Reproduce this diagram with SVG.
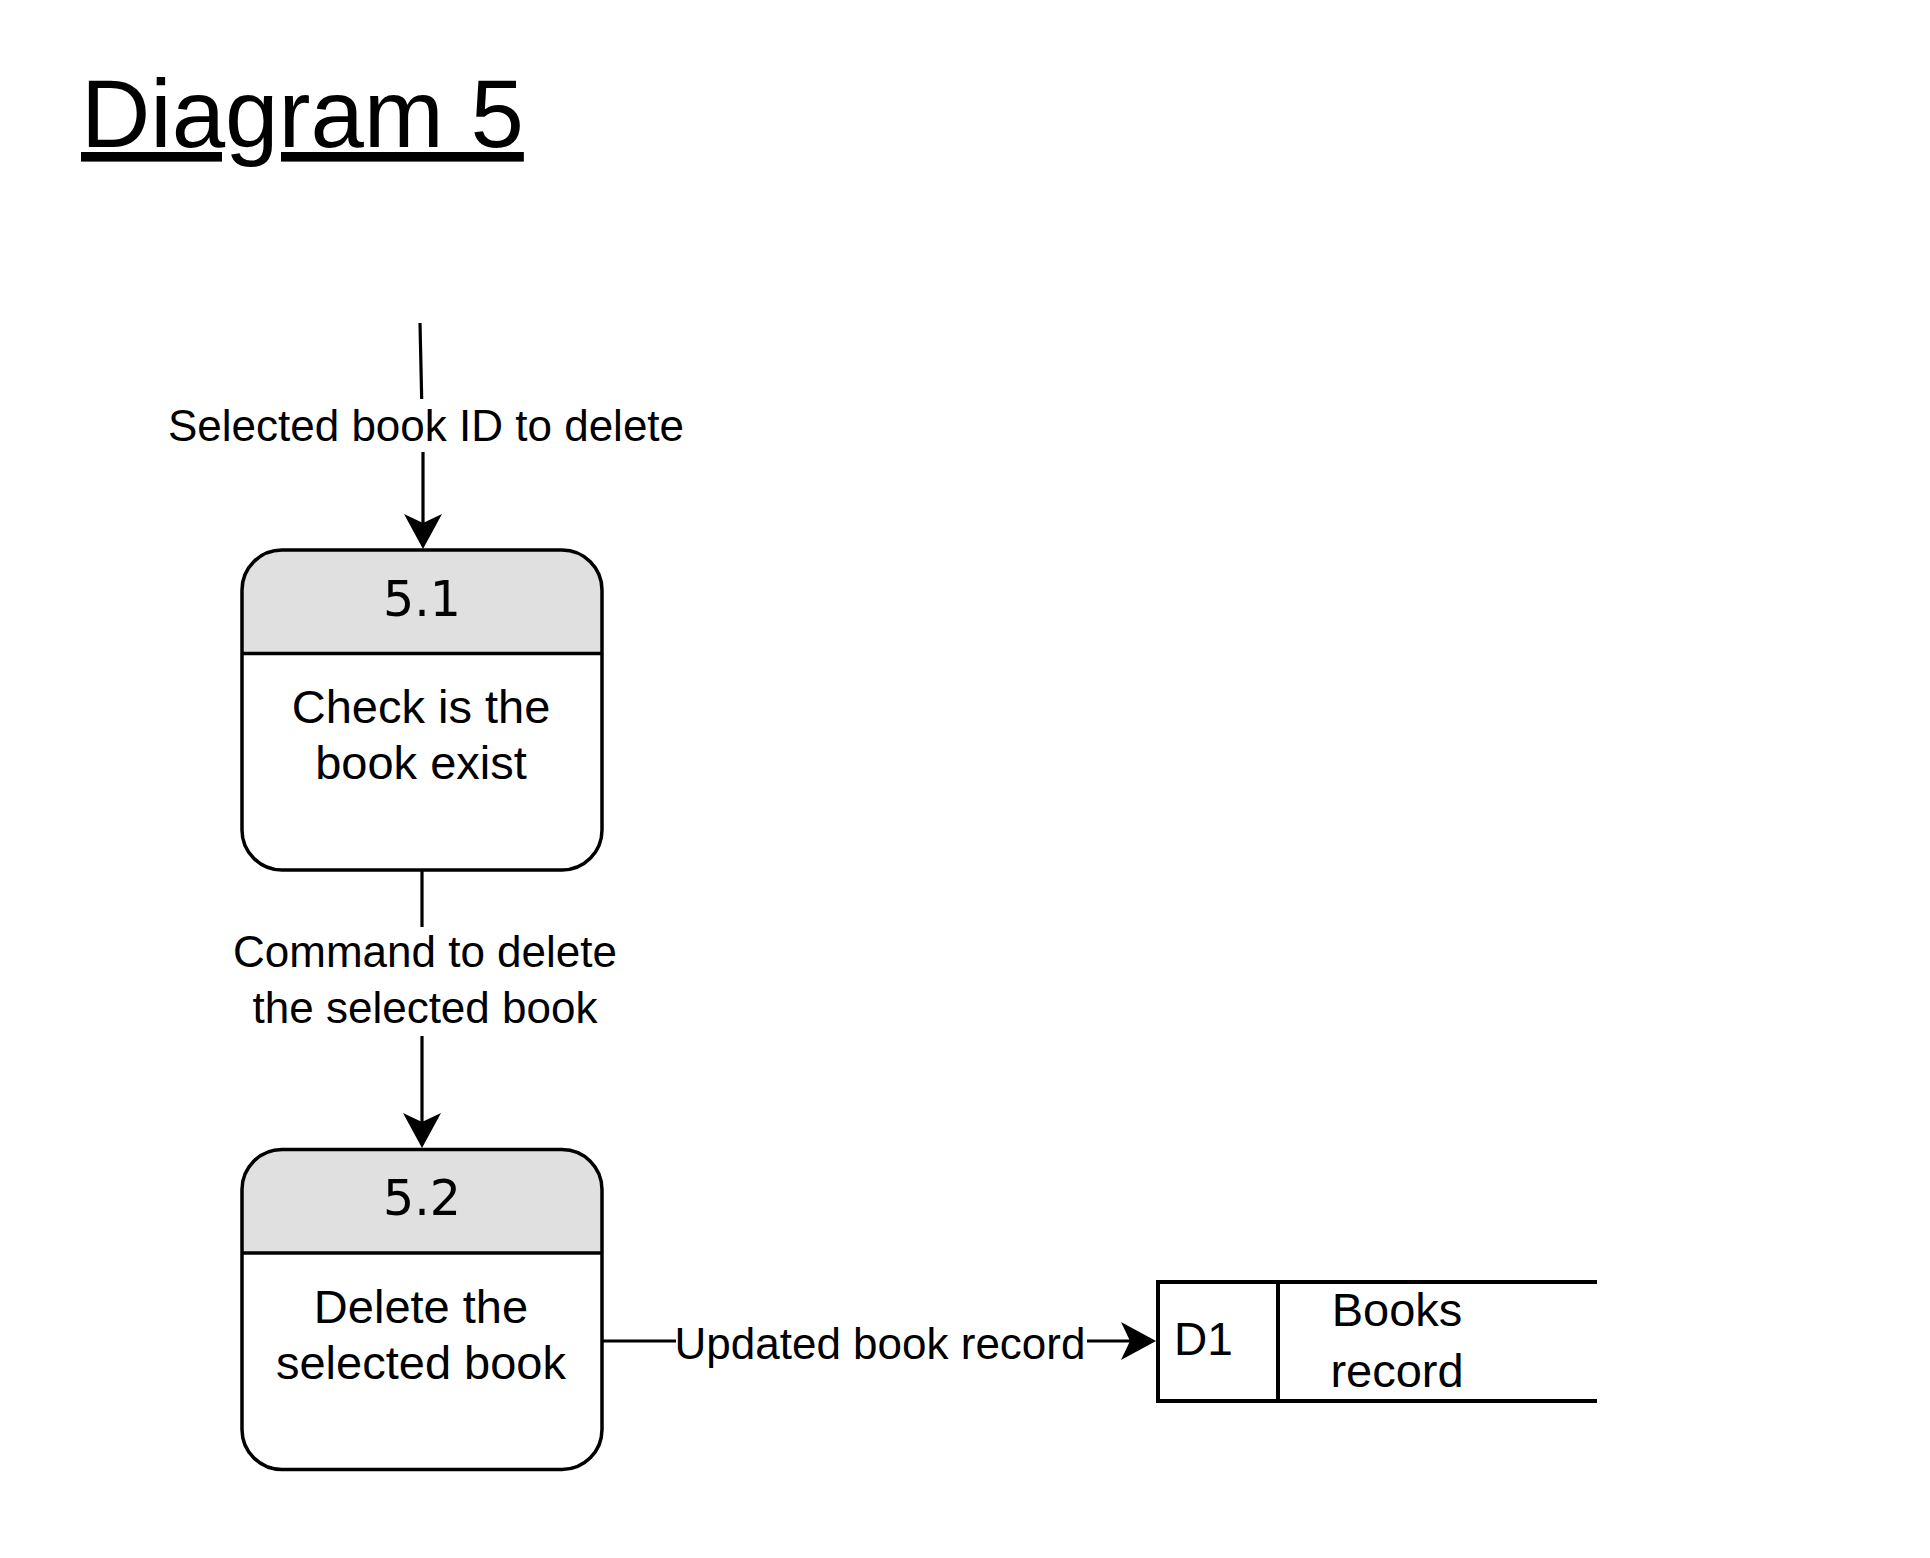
<svg xmlns="http://www.w3.org/2000/svg" width="1930" height="1558" viewBox="0 0 1930 1558">
<style>
.t{font-family:"Liberation Sans",Arial,sans-serif;fill:#000}
.lbl{font-size:44px;text-anchor:middle}
.body{font-size:47px;text-anchor:middle}
.num{font-family:"DejaVu Sans",Verdana,sans-serif;font-size:49px;text-anchor:middle;fill:#000}
.edge{fill:none;stroke:#000;stroke-width:3.2}
.box{fill:none;stroke:#000;stroke-width:3.5}
.store{fill:none;stroke:#000;stroke-width:4}
.hdr{fill:#e0e0e0;stroke:none}
</style>
<defs>
<marker id="arr" markerUnits="userSpaceOnUse" markerWidth="35" markerHeight="38" viewBox="0 0 35 38" refX="9" refY="19" orient="auto">
<path d="M35,19 L0,0 L9,19 L0,38 Z" fill="#000"/>
</marker>
</defs>
<rect width="1930" height="1558" fill="#fff"/>
<text class="t" x="81" y="147" font-size="96" text-decoration="underline">Diagram 5</text>

<g id="connectors">
<path class="edge" d="M420,323 L421.7,399"/>
<path class="edge" d="M423,452 L423,523" marker-end="url(#arr)"/>
<text class="t lbl" x="426" y="441">Selected book ID to delete</text>
<path class="edge" d="M422,871 L422,927"/>
<path class="edge" d="M422,1036 L422,1122" marker-end="url(#arr)"/>
<text class="t lbl" x="425" y="967">Command to delete</text>
<text class="t lbl" x="425" y="1023">the selected book</text>
<path class="edge" d="M603,1341 L676,1341"/>
<path class="edge" d="M1087,1341 L1130,1341" marker-end="url(#arr)"/>
<text class="t lbl" x="880" y="1359">Updated book record</text>
</g>

<g id="p51">
<path class="hdr" d="M242,653.5 V590 A40,40 0 0 1 282,550 H562 A40,40 0 0 1 602,590 V653.5 Z"/>
<rect class="box" x="242" y="550" width="360" height="320" rx="40" ry="40"/>
<line class="box" x1="242" y1="653.5" x2="602" y2="653.5"/>
<text class="num" x="422" y="615.5">5.1</text>
<text class="t body" x="421" y="722.5">Check is the</text>
<text class="t body" x="421" y="778.5">book exist</text>
</g>

<g id="p52">
<path class="hdr" d="M242,1253 V1189.5 A40,40 0 0 1 282,1149.5 H562 A40,40 0 0 1 602,1189.5 V1253 Z"/>
<rect class="box" x="242" y="1149.5" width="360" height="320" rx="40" ry="40"/>
<line class="box" x1="242" y1="1253" x2="602" y2="1253"/>
<text class="num" x="422" y="1215">5.2</text>
<text class="t body" x="421" y="1323">Delete the</text>
<text class="t body" x="421" y="1379">selected book</text>
</g>

<g id="d1">
<path class="store" d="M1597,1282 H1158 V1401 H1597"/>
<line class="store" x1="1278" y1="1282" x2="1278" y2="1401"/>
<text class="t" x="1174" y="1355" font-size="46">D1</text>
<text class="t body" x="1397" y="1326">Books</text>
<text class="t body" x="1397" y="1387">record</text>
</g>
</svg>
